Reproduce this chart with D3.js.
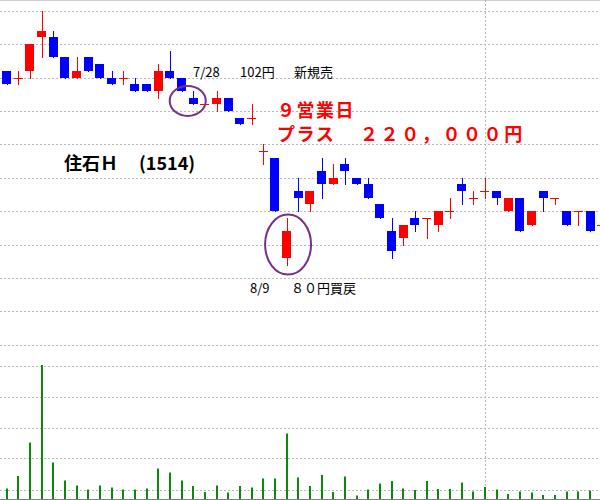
<!DOCTYPE html>
<html>
<head>
<meta charset="utf-8">
<script src="https://cdn.jsdelivr.net/npm/d3@7"></script>
<style>
body { margin: 0; background: #fff; }
svg { display: block; }
text { font-family: "Noto Sans CJK JP", "DejaVu Sans", sans-serif; }
</style>
</head>
<body>
<div id="chart"></div>
<script>
// daily candles, yen (open, high, low, close)
const opens  = [106,105,106,111,111,108,105,108,107,105,105,104,104,103,106,105,102,101,101,102,99,99,94,93,78,88,86,91,89,92,90,89,86,82,81,84,84,83,85,89,87,88,88,85,87,83,88,87,85,85,85,83];
const highs  = [106,106,110,115,112,108,108,108,107,106,106,105,104,107,109,105,103,101,103,102,99,101,95,93,84,90,88,93,92,93,90,90,86,84,83,85,84,85,87,90,88,90,88,87,87,85,88,87,85,85,85,83];
const lows   = [104,104,105,108,108,105,105,106,105,104,104,103,103,102,105,103,101,101,100,100,98,98,92,85,77,85,85,87,89,89,89,87,84,78,80,82,81,82,84,86,86,87,86,85,82,83,85,86,83,83,82,83];
const closes = [104,105,110,112,108,105,106,106,105,104,105,103,103,106,105,103,101,101,102,100,98,99,94,85,82,87,88,89,90,91,89,87,84,79,83,83,84,85,85,88,87,88,87,87,82,85,87,87,83,85,82,83];
// volume (relative units)
const volumes = [11,23.5,57,134.5,37,19,14,10,14,12,10,10,11,31,27,19,13.5,7.5,14,7,13.5,12,21,21,66,22,13.5,24.5,7.5,23,4,10,16,18.5,11,9.5,18.5,10.5,10.5,17,8,12.5,10,5.5,8,7,4.5,4.5,8,8,9,6];

const priceTicks = [65,70,75,80,85,90,95,100,105,110,115];
const volTicks = [10,41,72,103,134];
const monthLineIndex = 41;

const width = 600, height = 500;
const bodyW = 9;

const svg = d3.select("#chart").append("svg")
    .attr("width", width)
    .attr("height", height);

let x = d3.scaleLinear()
    .domain([0, 50])
    .range([6.5, 590]);

let y = d3.scaleLinear()
    .domain([65, 115])
    .range([344.8, 10.7]);

let yv = d3.scaleLinear()
    .domain([0, 140])
    .range([499.5, 359.5]);

const px = v => Math.round(v) + 0.5;

// grid
svg.append("line")
    .attr("x1", 0).attr("x2", width)
    .attr("y1", 0.5).attr("y2", 0.5)
    .attr("stroke", "#cfcfcf");

svg.append("g")
    .selectAll("line")
    .data(priceTicks)
    .enter().append("line")
        .attr("x1", 0).attr("x2", width)
        .attr("y1", d => px(y(d))).attr("y2", d => px(y(d)))
        .attr("stroke", "#b8b8b8")
        .attr("stroke-dasharray", "2,2");

svg.append("g")
    .selectAll("line")
    .data(volTicks)
    .enter().append("line")
        .attr("x1", 0).attr("x2", width)
        .attr("y1", d => px(yv(d))).attr("y2", d => px(yv(d)))
        .attr("stroke", "#b8b8b8")
        .attr("stroke-dasharray", "2,2");

svg.append("line")
    .attr("x1", px(x(monthLineIndex))).attr("x2", px(x(monthLineIndex)))
    .attr("y1", 0).attr("y2", height)
    .attr("stroke", "#b8b8b8")
    .attr("stroke-dasharray", "2,2");

// volume bars
svg.append("g")
    .selectAll("rect")
    .data(volumes)
    .enter().append("rect")
        .attr("x", (d, i) => Math.round(x(i)) - 1)
        .attr("width", 2)
        .attr("y", d => yv(d))
        .attr("height", d => yv(0) - yv(d))
        .attr("fill", "#0a8a0a");

svg.append("line")
    .attr("x1", 0).attr("x2", width)
    .attr("y1", 499.5).attr("y2", 499.5)
    .attr("stroke", "#808080");

// candles
const candles = opens.map((o, i) => ({i: i, o: o, h: highs[i], l: lows[i], c: closes[i]}));
const col = d => d.c >= d.o ? "#ff0000" : "#0000ff";

let g = svg.append("g")
    .selectAll("g")
    .data(candles)
    .enter().append("g");

g.append("line") //wick
    .attr("x1", d => px(x(d.i))).attr("x2", d => px(x(d.i)))
    .attr("y1", d => Math.round(y(d.h))).attr("y2", d => Math.round(y(d.l)) + 1)
    .attr("stroke", col);

g.append("rect") //body, doji drawn as a 1px bar
    .attr("x", d => Math.round(x(d.i) - bodyW / 2))
    .attr("width", bodyW)
    .attr("y", d => Math.round(y(Math.max(d.o, d.c))))
    .attr("height", d => Math.max(1, Math.round(y(Math.min(d.o, d.c))) - Math.round(y(Math.max(d.o, d.c)))))
    .attr("fill", col);

// circles on entry / exit
svg.append("ellipse")
    .attr("cx", x(16) - 5.5).attr("cy", y(101.5))
    .attr("rx", 18).attr("ry", 15)
    .attr("fill", "none")
    .attr("stroke", "#76308a")
    .attr("stroke-width", 2);

svg.append("ellipse")
    .attr("cx", x(24) + 1.5).attr("cy", y(80))
    .attr("rx", 23).attr("ry", 30)
    .attr("fill", "none")
    .attr("stroke", "#76308a")
    .attr("stroke-width", 2);

// labels
let t1 = svg.append("text")
    .attr("y", 77)
    .attr("font-size", 13)
    .attr("fill", "#000");
t1.append("tspan").attr("x", 193).text("7/28");
t1.append("tspan").attr("x", 240).text("102円");
t1.append("tspan").attr("x", 294).text("新規売");

let t2 = svg.append("text")
    .attr("y", 293)
    .attr("font-size", 13)
    .attr("fill", "#000");
t2.append("tspan").attr("x", 250).text("8/9");
t2.append("tspan").attr("x", 291).text("８０円買戻");

let title = svg.append("text")
    .attr("y", 170)
    .attr("font-size", 18)
    .attr("font-weight", "bold")
    .attr("fill", "#000");
title.append("tspan").attr("x", 64).text("住石Ｈ");
title.append("tspan").attr("x", 139).text("(1514)");

let t3 = svg.append("text")
    .attr("font-size", 18)
    .attr("font-weight", "bold")
    .attr("letter-spacing", 1.5)
    .attr("fill", "#ff0000");
t3.append("tspan").attr("x", 277).attr("y", 117).text("９営業日");
t3.append("tspan").attr("x", 277).attr("y", 141).text("プラス");
t3.append("tspan").attr("x", 360).attr("y", 141).attr("letter-spacing", 2.6).text("２２０，０００円");
</script>
</body>
</html>
